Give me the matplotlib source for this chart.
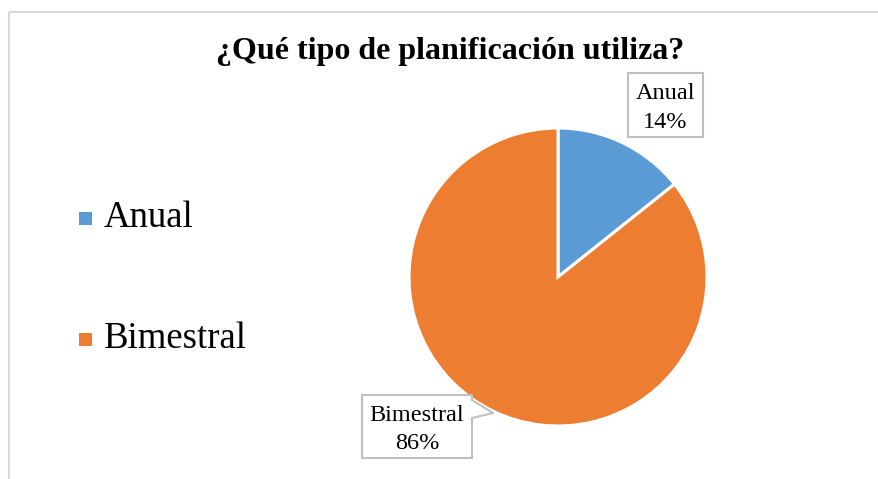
# Pie chart: "¿Qué tipo de planificación utiliza?" (Excel-style, serif text)
import matplotlib.pyplot as plt
from matplotlib.patches import Rectangle, Polygon

categories = ["Anual", "Bimestral"]
counts = [1, 6]
colors = ["#5B9BD5", "#ED7D31"]
title = "¿Qué tipo de planificación utiliza?"

W, H = 879, 479
plt.rcParams['font.family'] = ['Liberation Serif', 'DejaVu Serif']
fig = plt.figure(figsize=(W / 100, H / 100), dpi=100)

# overlay axes in pixel coordinates (y down)
ov = fig.add_axes([0, 0, 1, 1], zorder=3)
ov.set_xlim(0, W); ov.set_ylim(H, 0); ov.axis("off")
ov.patch.set_alpha(0)

# chart-area border (runs off the right/bottom edge)
ov.add_patch(Rectangle((9.5, 12), W + 20, H + 20, fill=False, ec="#D9D9D9", lw=1.5))

ov.text(450, 51, title, ha="center", va="center", fontsize=23, fontweight="bold")

# pie
cx, cy, r = 558, 277, 149
pa = fig.add_axes([(cx - r) / W, (H - cy - r) / H, 2 * r / W, 2 * r / H], zorder=2)
wedges, _ = pa.pie(counts, colors=colors, startangle=90, counterclock=False,
                   wedgeprops=dict(edgecolor="white", linewidth=2.2))
pa.set_xlim(-1, 1); pa.set_ylim(-1, 1); pa.set_aspect("auto")

total = sum(counts)
pcts = [f"{100 * c / total:.0f}%" for c in counts]

# legend (left)
for i, (lab, col) in enumerate(zip(categories, colors)):
    y = 218 + i * 121
    ov.add_patch(Rectangle((79, y - 6.5), 13, 13, color=col, lw=0))
    ov.text(104, y, lab, ha="left", va="center", fontsize=26.5)

# data-label callouts
def callout(x0, y0, w, h, text):
    ov.add_patch(Rectangle((x0, y0), w, h, fc="white", ec="#BFBFBF", lw=1.5, zorder=5))
    ov.text(x0 + w / 2, y0 + h / 2 + 3, text, ha="center", va="center",
            fontsize=17.5, linespacing=1.45, zorder=8)

callout(628, 73, 75, 64, f"{categories[0]}\n{pcts[0]}")
callout(362, 395, 110, 63, f"{categories[1]}\n{pcts[1]}")

# pointer on the Bimestral callout
xr, tip = 472, (493, 413)
ov.add_patch(Polygon([(xr - 1, 400), tip, (xr - 1, 418)], closed=True,
                     fc="white", ec="none", zorder=6))
ov.plot([xr, tip[0], xr], [400, tip[1], 418], color="#BFBFBF", lw=1.5, zorder=7)

fig.savefig("out.png", dpi=100)
